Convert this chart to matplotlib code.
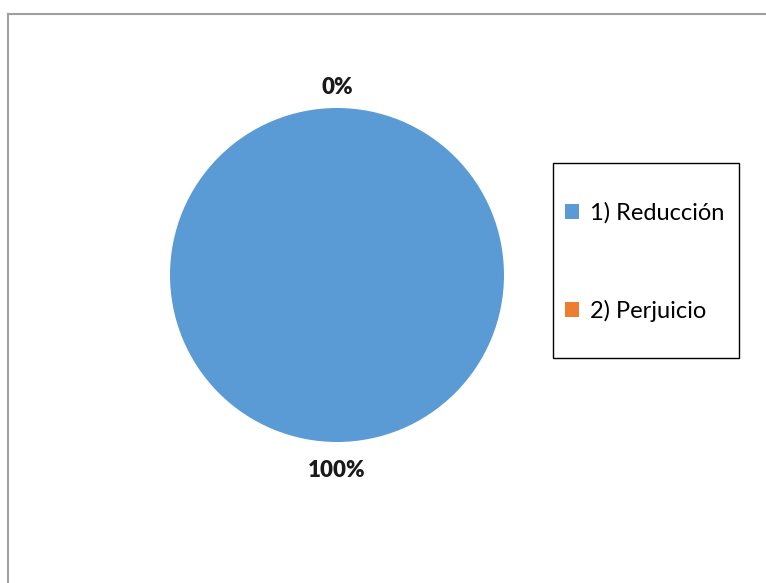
import matplotlib
matplotlib.use('Agg')
import matplotlib.pyplot as plt
from matplotlib.patches import Patch, Rectangle
from matplotlib.lines import Line2D

plt.rcParams['font.family'] = ['Lato', 'DejaVu Sans']

# data
categories = ['1) Reducción', '2) Perjuicio']
values = [100, 0]
colors = ['#5B9BD5', '#ED7D31']

W, H = 766, 583
fig = plt.figure(figsize=(W/100, H/100), dpi=100)

# pie axes: centre (337,275) px, radius 167 px
cx, cy, r = 337, 275, 167
ax = fig.add_axes([(cx-r)/W, 1-(cy+r)/H, 2*r/W, 2*r/H])
wedges, texts, autotexts = ax.pie(values, colors=colors, startangle=90, counterclock=False,
                                  autopct='%1.0f%%', pctdistance=1.15,
                                  wedgeprops=dict(linewidth=0),
                                  textprops=dict(fontsize=16, fontweight='heavy', color='#1a1a1a'))
# nudge labels to match the original placement
autotexts[0].set_y(autotexts[0].get_position()[1] - 0.02)
autotexts[1].set_y(autotexts[1].get_position()[1] - 0.03)
ax.set_xlim(-1, 1)
ax.set_ylim(-1, 1)
ax.set_aspect('equal')

# chart area border (top and left visible)
fig.add_artist(Line2D([8/W, 1], [1-14/H, 1-14/H], color='#a0a0a0', lw=1.5, transform=fig.transFigure))
fig.add_artist(Line2D([8/W, 8/W], [0, 1-14/H], color='#a0a0a0', lw=1.5, transform=fig.transFigure))

# legend frame
fig.add_artist(Rectangle((553/W, 1-358/H), (739-553)/W, (358-163)/H, transform=fig.transFigure,
                         fill=False, edgecolor='black', lw=1.0))
handles = [Patch(facecolor=c, edgecolor='none') for c in colors]
fig.legend(handles, categories, loc='center left', bbox_to_anchor=(565/W, 1-262/H),
           frameon=False, fontsize=17, labelspacing=3.25, handlelength=0.6, handleheight=0.6,
           handletextpad=0.45, borderpad=0, borderaxespad=0)

fig.savefig('out.png', dpi=100)
